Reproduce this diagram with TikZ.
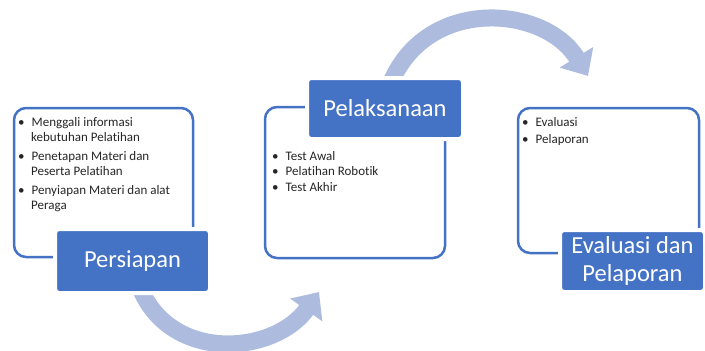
\documentclass[tikz,border=0pt]{standalone}
\usepackage{fontspec}
\setmainfont[Ligatures=NoCommon]{Carlito}
\usetikzlibrary{arrows.meta}
\definecolor{officeblue}{RGB}{68,114,196}
\definecolor{arrowblue}{RGB}{172,187,222}
\begin{document}
\begin{tikzpicture}[x=1pt,y=-1pt,
  outlinebox/.style={draw=officeblue, line width=2.5pt, rounded corners=12pt, fill=white, inner sep=0pt},
  titlebox/.style={fill=officeblue, draw=white, line width=4pt, rounded corners=4pt, text=white,
    font=\fontsize{24.5}{28}\selectfont, align=center, inner sep=0pt},
  bullettext/.style={anchor=north west, align=left, inner sep=0pt, font=\fontsize{13}{15}\selectfont, text=black!85},
  bigarrow/.style={draw=arrowblue, line width=17pt, -{Triangle[width=38pt,length=22pt]}}
]
\useasboundingbox (0,0) rectangle (705,351);
% arrows
\coordinate (a1s) at (140,288);
\coordinate (a1e) at (319,292);
\coordinate (a2s) at (392,80);
\coordinate (a2e) at (588,76);
\draw[bigarrow] (a1s) .. controls (172,364) and (275,354) .. (a1e);
\draw[bigarrow] (a2s) .. controls (430,-4) and (545,6) .. (a2e);
% outline boxes
\node[outlinebox, minimum width=179, minimum height=149] (b1) at (103.5,182.5) {};
\node[outlinebox, minimum width=180, minimum height=151] (b2) at (355,182.5) {};
\node[outlinebox, minimum width=181, minimum height=145] (b3) at (608.5,180.5) {};
% title boxes
\node[titlebox, minimum width=155, minimum height=64] (t1) at (132.5,261) {Persiapan};
\node[titlebox, minimum width=156, minimum height=61] (t2) at (385,108.5) {Pelaksanaan};
\node[titlebox, minimum width=145, minimum height=62] (t3) at (632.5,261) {Evaluasi dan\\Pelaporan};
% bullets box 1
\node[bullettext] (p1) at (18,117) {•\hspace{7pt}Menggali informasi\\\hspace{13pt}kebutuhan Pelatihan};
\node[bullettext] (p2) at (18,151) {•\hspace{7pt}Penetapan Materi dan\\\hspace{13pt}Peserta Pelatihan};
\node[bullettext] (p3) at (18,185) {•\hspace{7pt}Penyiapan Materi dan alat\\\hspace{13pt}Peraga};
% bullets box 2
\node[bullettext, font=\fontsize{13}{15.5}\selectfont] (q1) at (272,151) {•\hspace{7pt}Test Awal\\•\hspace{7pt}Pelatihan Robotik\\•\hspace{7pt}Test Akhir};
% bullets box 3
\node[bullettext, font=\fontsize{13}{17.5}\selectfont] (r1) at (522,117) {•\hspace{7pt}Evaluasi\\•\hspace{7pt}Pelaporan};
\end{tikzpicture}
\end{document}
